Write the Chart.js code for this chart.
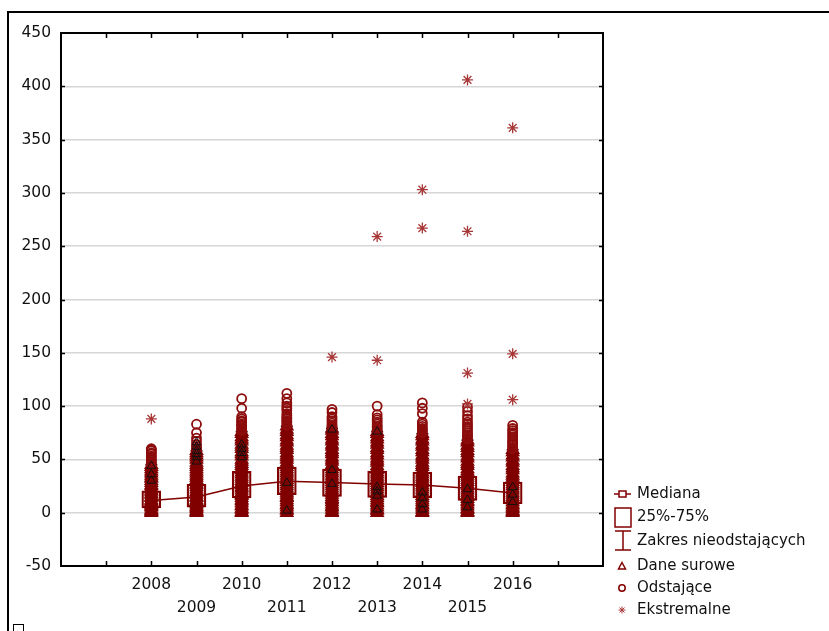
<!DOCTYPE html>
<html>
<head>
<meta charset="utf-8">
<script src="https://cdn.jsdelivr.net/npm/chart.js@4.4.1/dist/chart.umd.min.js"></script>
<style>
  html, body { margin: 0; padding: 0; background: #fff; }
  #wrap { width: 829px; height: 631px; }
</style>
</head>
<body>
<div id="wrap"><canvas id="boxChart" width="829" height="631"></canvas></div>
<script>
/* =========================
   DANE
========================= */
const years = [2008, 2009, 2010, 2011, 2012, 2013, 2014, 2015, 2016];

const medians = [11.5, 14.7, 25, 29.4, 28.4, 27, 26, 23, 18.5];
const q1 = [4.4, 5.3, 13.8, 16.9, 15.3, 14.4, 13.8, 11.5, 8.4];
const q3 = [20.6, 26.6, 38.8, 42.9, 41, 39.1, 38.2, 34.4, 28.8];
const whiskerMax = [45, 58, 76, 81, 79, 76, 74, 68, 59];
const whiskerMin = [0, 0, 0, 0, 0, 0, 0, 0, 0];

// dane surowe (trójkąty), po jednym wierszu na rok
const rawValues = [
  [0, 1, 2, 3, 5, 6, 7, 8, 10, 11, 12, 14, 15, 17, 18, 20, 21, 23, 25, 26, 28, 30, 32, 33, 35, 37, 39, 41, 43, 45],
  [0, 1, 2, 4, 5, 6, 8, 9, 11, 12, 14, 15, 17, 19, 20, 22, 24, 26, 27, 29, 31, 33, 35, 37, 39, 41, 43, 45, 47, 50, 52, 54, 56, 58],
  [0, 1, 3, 4, 6, 7, 9, 11, 12, 14, 16, 17, 19, 21, 23, 24, 26, 28, 30, 32, 34, 36, 38, 40, 42, 44, 46, 48, 50, 53, 55, 57, 60, 62, 64, 67, 69, 71, 74, 76],
  [0, 2, 3, 5, 7, 8, 10, 12, 14, 15, 17, 19, 21, 23, 25, 27, 29, 31, 33, 35, 37, 39, 41, 43, 45, 47, 50, 52, 54, 56, 59, 61, 63, 66, 68, 71, 73, 76, 78, 81],
  [0, 1, 3, 5, 6, 8, 10, 12, 13, 15, 17, 19, 21, 23, 25, 27, 29, 31, 33, 35, 37, 39, 41, 43, 45, 48, 50, 52, 55, 57, 59, 62, 64, 67, 69, 72, 74, 77, 79],
  [0, 2, 3, 5, 7, 9, 10, 12, 14, 16, 18, 20, 22, 24, 26, 28, 30, 32, 34, 36, 38, 40, 42, 44, 47, 49, 51, 54, 56, 59, 61, 64, 66, 69, 71, 74, 76],
  [0, 1, 3, 5, 7, 8, 10, 12, 14, 16, 18, 20, 22, 24, 26, 28, 30, 32, 34, 36, 38, 40, 43, 45, 47, 50, 52, 54, 57, 59, 62, 64, 67, 69, 72, 74],
  [0, 1, 3, 4, 6, 8, 10, 11, 13, 15, 17, 19, 21, 23, 25, 27, 29, 31, 33, 35, 37, 39, 41, 44, 46, 48, 51, 53, 56, 58, 61, 63, 66, 68],
  [0, 1, 2, 4, 5, 7, 8, 10, 12, 13, 15, 17, 19, 21, 23, 25, 27, 29, 31, 33, 35, 37, 40, 42, 44, 47, 49, 52, 54, 57, 59]
];

// pojedyncze surowe punkty widoczne z czarnym obrysem
const darkRawValues = [
  [30, 36, 44],
  [48, 52, 55, 58, 62, 66],
  [52, 56, 60, 64],
  [2, 28],
  [27, 40, 78],
  [3, 16, 20, 24, 76],
  [3, 8, 14, 19],
  [5, 12, 22],
  [10, 17, 24]
];

// odstające (kółka)
const outlierValues = [
  [46, 47, 49, 50, 52, 53, 55, 56, 58, 59, 60],
  [59, 60, 62, 64, 67, 70, 75, 83],
  [77, 78, 79, 81, 82, 83, 85, 86, 88, 90, 98, 107],
  [82, 83, 85, 86, 88, 89, 91, 93, 96, 98, 100, 103, 107, 112],
  [80, 81, 82, 84, 86, 88, 90, 94, 97],
  [77, 78, 80, 81, 83, 85, 87, 89, 92, 100],
  [75, 76, 78, 79, 81, 83, 85, 93, 98, 103],
  [69, 70, 72, 73, 75, 77, 79, 81, 83, 85, 88, 91, 95, 99],
  [60, 61, 63, 64, 66, 67, 69, 71, 73, 75, 77, 79, 82]
];

// ekstremalne (gwiazdki)
const extremeValues = [
  [88],
  [],
  [],
  [],
  [146],
  [259, 143],
  [303, 267],
  [406, 264, 131, 102],
  [361, 149, 106]
];

const yTicks = { min: -50, max: 450, step: 50 };
const xRange = { min: 2006, max: 2018 };
const legendLabels = ["Mediana", "25%-75%", "Zakres nieodstających", "Dane surowe", "Odstające", "Ekstremalne"];

const MAROON = "#800000";
const STAR = "#a83838";
const FONT = "'DejaVu Sans', 'Liberation Sans', Arial, sans-serif";

const toPoints = (rows) =>
  years.flatMap((yr, i) => rows[i].map((v) => ({ x: yr, y: v })));

/* =========================
   RAMKA, ZNACZNIKI, LEGENDA
========================= */
const framePlugin = {
  id: "statFrame",
  afterDraw(chart) {
    const { ctx, chartArea: a, scales } = chart;
    ctx.save();
    ctx.strokeStyle = "#000";
    ctx.lineWidth = 2;
    ctx.strokeRect(a.left, a.top, a.right - a.left, a.bottom - a.top);

    // znaczniki do środka
    ctx.lineWidth = 1.5;
    ctx.beginPath();
    for (let v = xRange.min + 1; v < xRange.max; v++) {
      const px = Math.round(scales.x.getPixelForValue(v)) + 0.5;
      ctx.moveTo(px, a.bottom); ctx.lineTo(px, a.bottom - 5);
      ctx.moveTo(px, a.top); ctx.lineTo(px, a.top + 5);
    }
    for (let v = yTicks.min + yTicks.step; v < yTicks.max; v += yTicks.step) {
      const py = Math.round(scales.y.getPixelForValue(v)) + 0.5;
      ctx.moveTo(a.left, py); ctx.lineTo(a.left + 4, py);
      ctx.moveTo(a.right, py); ctx.lineTo(a.right - 4, py);
    }
    ctx.stroke();

    // zewnętrzna ramka
    ctx.lineWidth = 2;
    ctx.beginPath();
    ctx.moveTo(8, 631); ctx.lineTo(8, 12); ctx.lineTo(829, 12);
    ctx.stroke();
    ctx.lineWidth = 1;
    ctx.strokeRect(13.5, 624.5, 10, 10);

    // legenda
    const sx = 622, tx = 637;
    const rowsY = [494, 517, 541, 566, 588, 610];
    ctx.font = "15px " + FONT;
    ctx.textBaseline = "middle";
    ctx.fillStyle = "#111";
    legendLabels.forEach((t, i) => ctx.fillText(t, tx, rowsY[i]));

    ctx.strokeStyle = MAROON;
    ctx.lineWidth = 1.5;
    // mediana
    ctx.beginPath();
    ctx.moveTo(614, rowsY[0]); ctx.lineTo(631, rowsY[0]);
    ctx.stroke();
    ctx.fillStyle = "#fff";
    ctx.fillRect(619, rowsY[0] - 3, 7, 6);
    ctx.strokeRect(619, rowsY[0] - 3, 7, 6);
    // 25-75
    ctx.strokeRect(615, 508, 16, 19);
    // zakres
    ctx.beginPath();
    ctx.moveTo(615, 531); ctx.lineTo(631, 531);
    ctx.moveTo(623, 531); ctx.lineTo(623, 550);
    ctx.moveTo(615, 550); ctx.lineTo(631, 550);
    ctx.stroke();
    // trójkąt
    ctx.beginPath();
    ctx.moveTo(sx, rowsY[3] - 3.5); ctx.lineTo(sx + 3.5, rowsY[3] + 3); ctx.lineTo(sx - 3.5, rowsY[3] + 3);
    ctx.closePath();
    ctx.stroke();
    // kółko
    ctx.beginPath();
    ctx.arc(sx, rowsY[4], 3.2, 0, Math.PI * 2);
    ctx.stroke();
    // gwiazdka
    ctx.strokeStyle = STAR;
    ctx.lineWidth = 1;
    ctx.beginPath();
    const r = 3.5, ey = rowsY[5];
    ctx.moveTo(sx - r, ey); ctx.lineTo(sx + r, ey);
    ctx.moveTo(sx, ey - r); ctx.lineTo(sx, ey + r);
    ctx.moveTo(sx - r * 0.7, ey - r * 0.7); ctx.lineTo(sx + r * 0.7, ey + r * 0.7);
    ctx.moveTo(sx - r * 0.7, ey + r * 0.7); ctx.lineTo(sx + r * 0.7, ey - r * 0.7);
    ctx.stroke();
    ctx.restore();
  }
};

/* =========================
   WYKRES RAMKA-WĄSY
========================= */
const chartCtx = document.getElementById("boxChart");

if (chartCtx) {
  new Chart(chartCtx, {
    type: "scatter",
    data: {
      datasets: [
        {
          label: "Ekstremalne",
          data: toPoints(extremeValues),
          pointStyle: "star",
          pointRadius: 5.5,
          borderColor: STAR,
          borderWidth: 1.3,
          order: 0
        },
        {
          label: "Dane surowe (obrys)",
          data: toPoints(darkRawValues),
          pointStyle: "triangle",
          pointRadius: 5,
          backgroundColor: "rgba(0,0,0,0)",
          borderColor: "#111",
          borderWidth: 1,
          order: 1
        },
        {
          label: "Odstające",
          data: toPoints(outlierValues),
          pointStyle: "circle",
          pointRadius: 4.5,
          backgroundColor: "rgba(0,0,0,0)",
          borderColor: "#8c0c0c",
          borderWidth: 1.8,
          order: 2
        },
        {
          label: "Dane surowe",
          data: toPoints(rawValues),
          pointStyle: "triangle",
          pointRadius: 6.5,
          backgroundColor: MAROON,
          borderColor: MAROON,
          borderWidth: 2,
          order: 3
        },
        {
          // zwarty słupek gęstych danych surowych (od min do max)
          type: "bar",
          label: "Dane surowe (zakres)",
          data: years.map((yr, i) => ({
            x: yr,
            y: [Math.min(...rawValues[i]), Math.max(...rawValues[i])]
          })),
          backgroundColor: MAROON,
          borderWidth: 0,
          barThickness: 7,
          grouped: false,
          order: 4
        },
        {
          label: "Zakres nieodstających",
          data: [
            ...years.map((yr, i) => ({ x: yr, y: whiskerMax[i] })),
            ...years.map((yr, i) => ({ x: yr, y: whiskerMin[i] }))
          ],
          pointStyle: "line",
          pointRadius: 6,
          borderColor: "#4a0000",
          borderWidth: 1.8,
          order: 5
        },
        {
          type: "bar",
          label: "25%-75%",
          data: years.map((yr, i) => ({ x: yr, y: [q1[i], q3[i]] })),
          backgroundColor: "rgba(0,0,0,0)",
          borderColor: MAROON,
          borderWidth: 1.6,
          borderSkipped: false,
          barThickness: 19,
          grouped: false,
          order: 6
        },
        {
          type: "line",
          label: "Mediana",
          data: years.map((yr, i) => ({ x: yr, y: medians[i] })),
          borderColor: MAROON,
          borderWidth: 1.5,
          pointStyle: "rect",
          pointRadius: 3,
          pointBackgroundColor: "#fff",
          tension: 0,
          order: 7
        }
      ]
    },
    options: {
      responsive: false,
      animation: false,
      layout: { padding: { top: 33, right: 226, left: 0, bottom: 0 } },
      plugins: {
        legend: { display: false },
        tooltip: { enabled: false }
      },
      scales: {
        x: {
          type: "linear",
          min: xRange.min,
          max: xRange.max,
          offset: false,
          grid: { display: false, drawTicks: false },
          border: { display: false },
          ticks: {
            stepSize: 1,
            autoSkip: false,
            maxRotation: 0,
            padding: 7,
            color: "#111",
            font: { family: FONT, size: 15.5, lineHeight: 1.52 },
            callback: (v) => {
              if (v < 2008 || v > 2016) return "";
              return v % 2 === 0 ? String(v) : ["", String(v)];
            }
          },
          afterFit: (s) => { s.height = 65; }
        },
        y: {
          min: yTicks.min,
          max: yTicks.max,
          grid: { color: "#d6d6d6", lineWidth: 1.5, drawTicks: false },
          border: { display: false },
          ticks: {
            stepSize: yTicks.step,
            padding: 10,
            color: "#111",
            font: { family: FONT, size: 15.5 }
          },
          afterFit: (s) => { s.width = 61; }
        }
      }
    },
    plugins: [framePlugin]
  });
}
</script>
</body>
</html>
